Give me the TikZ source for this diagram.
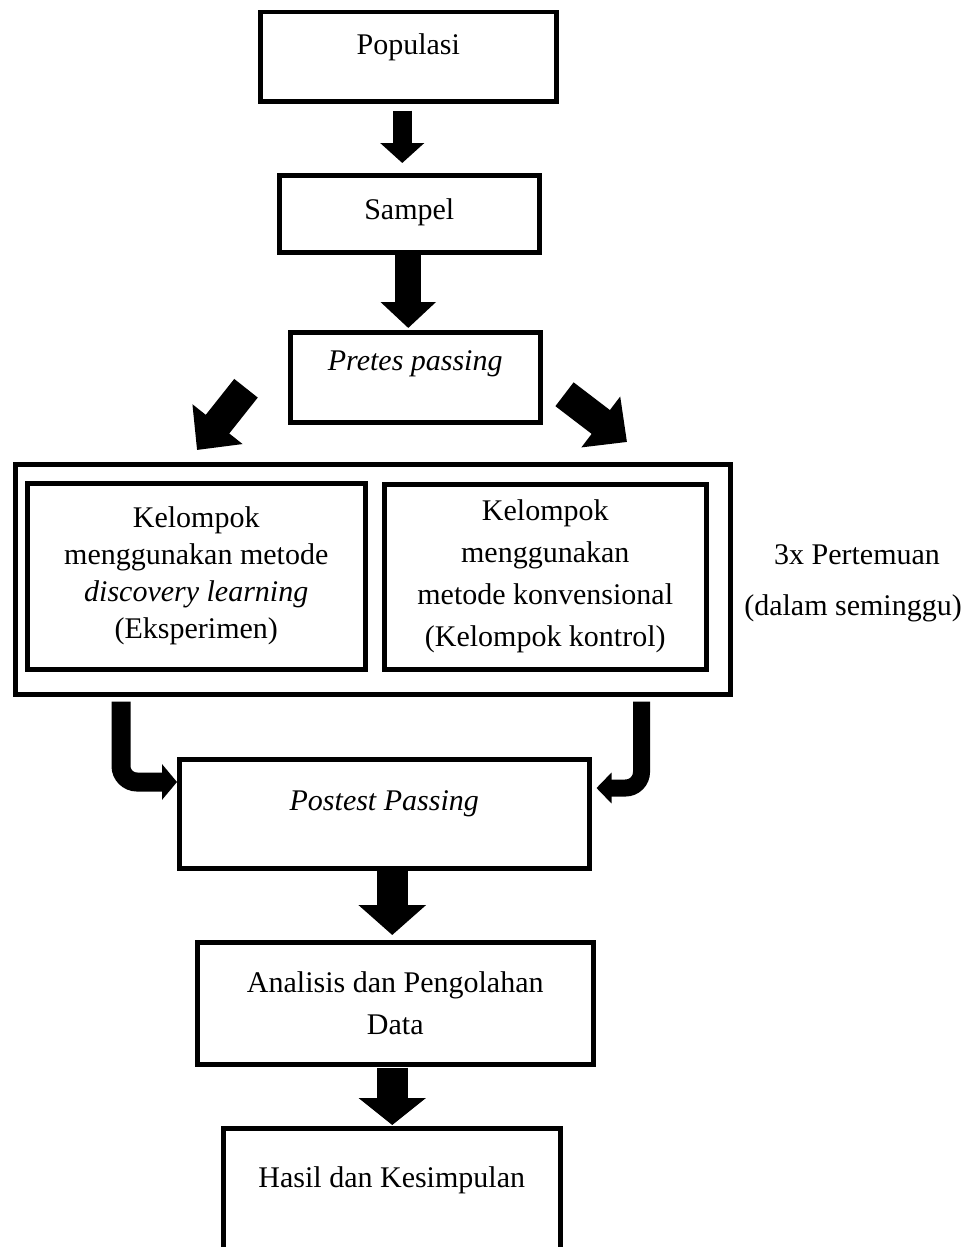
\documentclass[tikz,border=0pt]{standalone}
\usepackage{fontspec}
\setmainfont{Liberation Serif}
\usetikzlibrary{arrows.meta,calc}

\begin{document}
\begin{tikzpicture}[x=1pt, y=-1pt,
    txt/.style={font=\fontsize{30}{37}\selectfont, inner sep=0pt},
    box/.style={txt, draw, line width=4.5pt, anchor=north west},
    blockarrow/.style={line width=#1}
  ]
  \useasboundingbox (0,0) rectangle (968,1247);

  % Steps before the treatment
  \node[box, minimum width=296pt, text height=42pt, text depth=47pt] (pop) at (258,10) {Populasi};
  \node[box, minimum width=260pt, text height=44pt, text depth=33pt] (smp) at (277,173) {Sampel};
  \node[box, minimum width=250pt, text height=38pt, text depth=52pt] (pre) at (288,330) {\textit{Pretes passing}};

  % Treatment groups
  \node[box, minimum width=715pt, minimum height=230pt] (grp) at (13,462) {};
  \node[box, align=center, minimum width=338pt, minimum height=186pt] (exp) at (25,481)
    {Kelompok\\menggunakan metode\\\textit{discovery learning}\\(Eksperimen)};
  \node[box, align=center, minimum width=322pt, minimum height=185pt, font=\fontsize{30}{42}\selectfont] (ctl) at (382,482)
    {Kelompok\\menggunakan\\metode konvensional\\(Kelompok kontrol)};
  \node[txt, anchor=base] (meet) at (857,564) {3x Pertemuan};
  \node[txt, anchor=base] (week) at (853,615) {(dalam seminggu)};

  % Steps after the treatment
  \node[box, minimum width=410pt, text height=51pt, text depth=58pt] (post) at (177,757) {\textit{Postest Passing}};
  \node[box, align=center, minimum width=396pt, minimum height=122pt, font=\fontsize{30}{42}\selectfont] (ana) at (195,940)
    {Analisis dan Pengolahan\\Data};
  \node[box, minimum width=337pt, text height=59pt, text depth=75pt] (res) at (221,1126) {Hasil dan Kesimpulan};

  % Straight arrows
  \draw[blockarrow=19pt, -{Triangle[length=20pt, width=43pt]}] ([xshift=-6pt, yshift=-7pt]pop.south) -- ([xshift=-7pt, yshift=10pt]smp.north);
  \draw[blockarrow=26pt, -{Triangle[length=26pt, width=54pt]}] ([xshift=-1pt]smp.south) -- ([xshift=-7pt, yshift=2pt]pre.north);
  \draw[blockarrow=31pt, -{Triangle[length=30pt, width=66pt]}] ([xshift=8pt]post.south) -- ([xshift=-3pt, yshift=5pt]ana.north);
  \draw[blockarrow=31pt, -{Triangle[length=27pt, width=66pt]}] ([xshift=-3pt, yshift=-1pt]ana.south) -- ([xshift=0.5pt, yshift=1pt]res.north);

  % Split into the two groups
  \coordinate (dl0) at ($(pre.west)+(-42,11)$);
  \coordinate (dl1) at ($(grp.north west)+(184,-12)$);
  \coordinate (dr0) at ($(pre.east)+(22,17)$);
  \coordinate (dr1) at ($(grp.north west)+(614,-20)$);
  \draw[blockarrow=30pt, -{Triangle[length=33pt, width=62pt]}] (dl0) -- (dl1);
  \draw[blockarrow=30pt, -{Triangle[length=33pt, width=62pt]}] (dr0) -- (dr1);

  % Back together for the posttest
  \coordinate (cl0) at ($(grp.south west)+(108,5)$);
  \coordinate (cl1) at ($(post.north west)+(0,25)$);
  \coordinate (cr0) at ($(grp.south east)+(-91,5)$);
  \coordinate (cr1) at ($(post.north east)+(5,31)$);
  \draw[blockarrow=19pt, rounded corners=16pt, -{Triangle[length=15pt, width=35pt]}] (cl0) |- (cl1);
  \draw[blockarrow=17pt, rounded corners=16pt, -{Triangle[length=15pt, width=30pt]}] (cr0) |- (cr1);
\end{tikzpicture}
\end{document}
